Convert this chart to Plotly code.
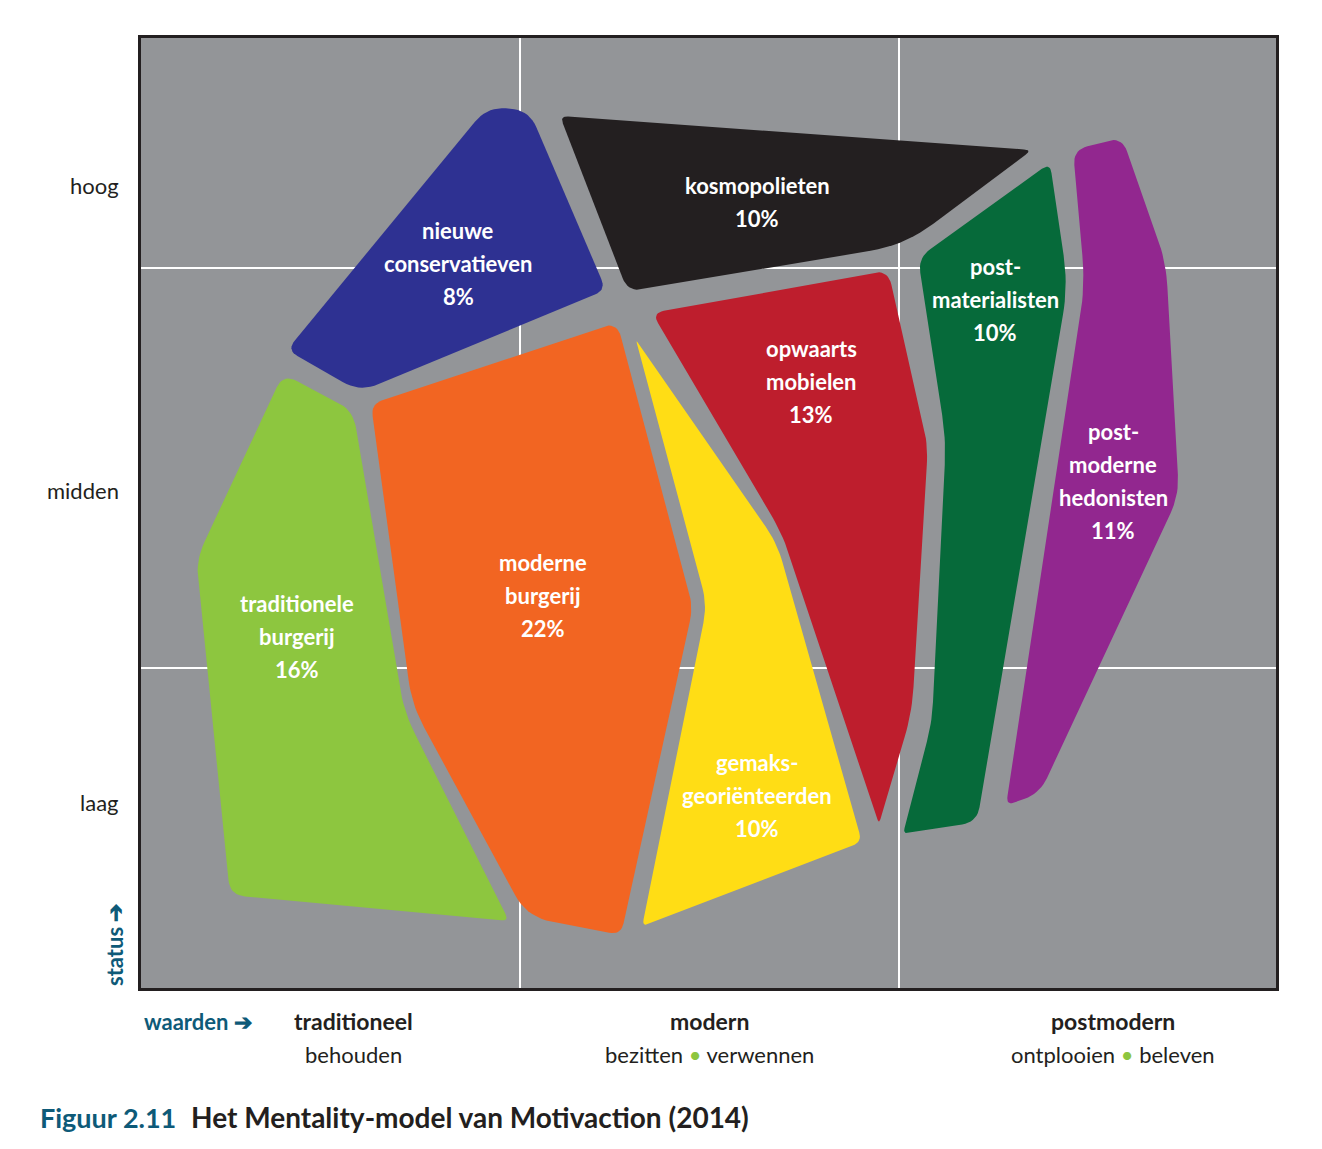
import numpy as np
import plotly.graph_objects as go

# ---------------- data ----------------
# segment outlines (x: waarden axis, y: status axis, image units)
segments = ["nieuwe conservatieven", "kosmopolieten", "opwaarts mobielen", "gemaksgeoriënteerden",
            "moderne burgerij", "traditionele burgerij", "postmaterialisten", "postmoderne hedonisten"]
shares = ["8%", "10%", "13%", "10%", "22%", "16%", "10%", "11%"]
label_lines = [["nieuwe", "conservatieven"], ["kosmopolieten"], ["opwaarts", "mobielen"],
               ["gemaks-", "georiënteerden"], ["moderne", "burgerij"], ["traditionele", "burgerij"],
               ["post-", "materialisten"], ["post-", "moderne", "hedonisten"]]
colors = ["#2e3192", "#231f20", "#be1e2d", "#ffdd15", "#f26522", "#8dc63f", "#066a3a", "#92278f"]

nc_x = [487, 529, 606, 360, 287]
nc_y = [107, 110, 290, 392, 350]
ko_x = [560, 1032, 905, 628]
ko_y = [116, 150, 245, 292]
om_x = [652, 888, 928, 912, 879, 783]
om_y = [313, 270, 445, 712, 824, 535]
ge_x = [636, 777, 862, 642, 707]
ge_y = [340, 543, 842, 927, 605]
mb_x = [371, 617, 693, 621, 527, 412]
mb_y = [404, 322, 607, 935, 917, 705]
tb_x = [283, 353, 404, 509, 230, 196]
tb_y = [374, 410, 712, 921, 895, 560]
pm_x = [1050, 1068, 977, 903, 932, 946, 918]
pm_y = [163, 285, 822, 834, 722, 440, 258]
ph_x = [1073, 1122, 1166, 1179, 1040, 1006, 1085]
ph_y = [150, 137, 262, 495, 793, 806, 285]

outlines = [(nc_x, nc_y), (ko_x, ko_y), (om_x, om_y), (ge_x, ge_y),
            (mb_x, mb_y), (tb_x, tb_y), (pm_x, pm_y), (ph_x, ph_y)]
label_x = [458, 757, 811, 757, 543, 297, 995, 1113]
label_y = [263, 201.5, 381, 795, 595, 636, 299, 481]

status_labels = ["hoog", "midden", "laag"]
status_pos = [185, 490, 802]
value_groups = ["traditioneel", "modern", "postmodern"]
value_sub = [["behouden"], ["bezitten", "verwennen"], ["ontplooien", "beleven"]]
value_pos = [353, 709, 1113]

# ---------------- style ----------------
corner_r = [[20, 20, 12, 20, 12], [8, 8, 35, 15], [12, 15, 20, 25, 5, 25], [3, 20, 10, 8, 18],
            [12, 15, 15, 12, 25, 25], [15, 18, 25, 8, 15, 20], [10, 30, 15, 6, 20, 25, 15],
            [15, 15, 25, 20, 25, 10, 30]]
TEAL = "#0e5a78"
DARK = "#231f20"
FONT = "Lato, 'Open Sans', sans-serif"
X0, X1, Y0, Y1 = 141, 1276, 988, 38   # axis ranges


def px(x):
    return (x - X0) / (X1 - X0)


def py(y):
    return (Y0 - y) / (Y0 - Y1)


def rounded(xs, ys, radii, n=10):
    pts = np.column_stack([xs, ys]).astype(float)
    m = len(pts)
    ox, oy = [], []
    for i in range(m):
        p = pts[i]
        a = pts[i - 1]
        b = pts[(i + 1) % m]
        da = np.linalg.norm(a - p)
        db = np.linalg.norm(b - p)
        r = min(radii[i], da * 0.45, db * 0.45)
        p_in = p + (a - p) / da * r
        p_out = p + (b - p) / db * r
        for t in np.linspace(0, 1, n):
            q = (1 - t) ** 2 * p_in + 2 * (1 - t) * t * p + t ** 2 * p_out
            ox.append(q[0])
            oy.append(q[1])
    ox.append(ox[0])
    oy.append(oy[0])
    return ox, oy


fig = go.Figure()
for i, (xs, ys) in enumerate(outlines):
    rx, ry = rounded(xs, ys, corner_r[i])
    fig.add_trace(go.Scatter(x=rx, y=ry, mode="lines", fill="toself", fillcolor=colors[i],
                             line=dict(width=0, color=colors[i]), name=segments[i],
                             hoverinfo="name", showlegend=False))

ann = []
LH = 33
for i, lines in enumerate(label_lines):
    all_lines = lines + [shares[i]]
    n = len(all_lines)
    for j, t in enumerate(all_lines):
        ann.append(dict(x=label_x[i], y=label_y[i] + (j - (n - 1) / 2) * LH, xref="x", yref="y",
                        text=t, showarrow=False, font=dict(family=FONT, size=22, color="white", weight="bold"),
                        xanchor="center", yanchor="middle"))

for t, p in zip(status_labels, status_pos):
    ann.append(dict(x=px(121), y=py(p), xref="paper", yref="paper", text=t, showarrow=False, xanchor="right",
                    yanchor="middle", font=dict(family=FONT, size=22, color=DARK)))

dot = " <span style='color:#8dc63f'>•</span> "
for g, s, p in zip(value_groups, value_sub, value_pos):
    ann.append(dict(x=px(p), y=py(1021), xref="paper", yref="paper", text=g, showarrow=False, xanchor="center",
                    yanchor="middle", font=dict(family=FONT, size=23, color=DARK, weight="bold")))
    ann.append(dict(x=px(p), y=py(1054), xref="paper", yref="paper", text=dot.join(s), showarrow=False,
                    xanchor="center", yanchor="middle", font=dict(family=FONT, size=22, color=DARK)))

ann.append(dict(x=px(142), y=py(1021), xref="paper", yref="paper", text="waarden ➔", showarrow=False,
                xanchor="left", yanchor="middle", font=dict(family=FONT, size=22, color=TEAL, weight="bold")))
ann.append(dict(x=px(114), y=py(988), xref="paper", yref="paper", text="status ➔", showarrow=False,
                xanchor="center", yanchor="bottom", textangle=-90,
                font=dict(family=FONT, size=22, color=TEAL, weight="bold")))
ann.append(dict(x=px(38), y=py(1117), xref="paper", yref="paper", showarrow=False, xanchor="left",
                yanchor="middle", text="Figuur 2.11",
                font=dict(family=FONT, size=27, color=TEAL, weight="bold")))
ann.append(dict(x=px(189), y=py(1117), xref="paper", yref="paper", showarrow=False, xanchor="left",
                yanchor="middle", text="Het Mentality-model van Motivaction (2014)",
                font=dict(family=FONT, size=28, color=DARK, weight="bold")))

fig.update_layout(
    width=1314, height=1141,
    margin=dict(l=133, r=46, t=30, b=161),
    paper_bgcolor="white", plot_bgcolor="#939598",
    annotations=ann,
    xaxis=dict(range=[X0, X1], tickvals=[520, 899], showticklabels=False, ticks="",
               showgrid=True, gridcolor="white", gridwidth=2, zeroline=False,
               showline=True, linecolor=DARK, linewidth=2.5, mirror=True, fixedrange=True),
    yaxis=dict(range=[Y0, Y1], tickvals=[268, 668], showticklabels=False, ticks="",
               showgrid=True, gridcolor="white", gridwidth=2, zeroline=False,
               showline=True, linecolor=DARK, linewidth=2.5, mirror=True, fixedrange=True),
)

fig.write_html("out.html")
